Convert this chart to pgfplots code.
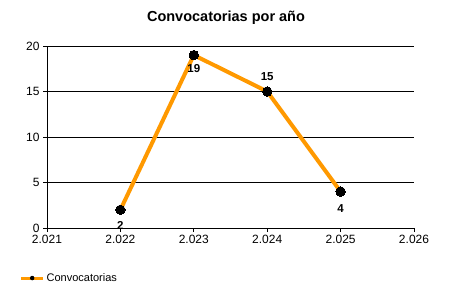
\documentclass[border=0pt]{standalone}
\usepackage{pgfplots}
\pgfplotsset{compat=1.18}
\usepackage{fontspec}
\setmainfont{Liberation Sans}
\definecolor{lineor}{RGB}{255,153,0}
\begin{document}
\begin{tikzpicture}[x=1bp,y=1bp]
\useasboundingbox (0,0) rectangle (450,300);
\begin{axis}[
  at={(47bp,72bp)}, anchor=south west,
  width=367bp, height=182bp, scale only axis,
  xmin=2021, xmax=2026, ymin=0, ymax=20,
  xtick={2021,2022,2023,2024,2025,2026},
  xticklabels={2.021,2.022,2.023,2.024,2.025,2.026},
  ytick={0,5,10,15,20},
  ymajorgrids, grid style={black, line width=0.75bp},
  axis x line*=bottom, axis y line*=left,
  axis line style={black, line width=0.75bp},
  tick style={black, line width=0.75bp},
  tick align=outside, major tick length=4bp,
  tick label style={font=\fontsize{12bp}{14bp}\selectfont},
  /pgf/number format/assume math mode=true,
  clip=false,
  legend style={at={(axis description cs:-0.075,-0.275)}, anchor=west, draw=none, fill=none,
    font=\fontsize{11bp}{13bp}\selectfont, inner sep=0pt},
  legend image code/.code={\draw[lineor,line width=3bp](0bp,0bp)--(22bp,0bp);\node[circle,fill=black,draw=none,inner sep=0pt,minimum size=4.5bp] at (11bp,0bp) {};},
]
\addplot[lineor, line width=4bp, mark=*, mark options={black, fill=black, line width=0pt}, mark size=4.7bp]
  coordinates {(2022,2)(2023,19)(2024,15)(2025,4)};
\addlegendentry{Convocatorias}
\begin{scope}[every node/.style={font=\bfseries\fontsize{11.5bp}{14bp}\selectfont, text=black}]
\node[yshift=-16bp] at (axis cs:2022,2) {2};
\node[yshift=-13bp] at (axis cs:2023,19) {19};
\node[yshift=15bp] at (axis cs:2024,15) {15};
\node[yshift=-17bp] at (axis cs:2025,4) {4};
\end{scope}
\end{axis}
\node[font=\bfseries\fontsize{14.5bp}{16bp}\selectfont] at (226,282) {Convocatorias por año};
\end{tikzpicture}
\end{document}
